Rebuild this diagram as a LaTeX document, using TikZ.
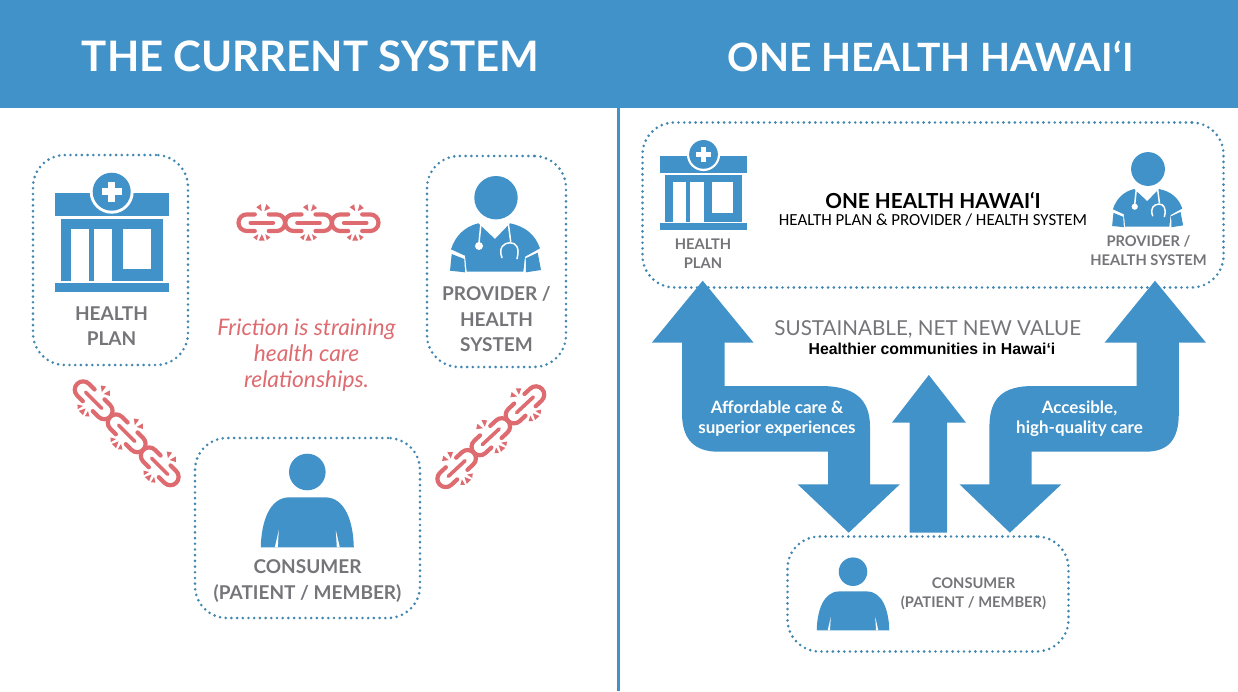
\documentclass[tikz,border=0pt]{standalone}
\usepackage{fontspec}
\setmainfont{Lato}
\newfontfamily\calfont{Carlito}
\newfontfamily\arialfont{Liberation Sans}
\definecolor{hawaiiblue}{RGB}{65,146,200}
\definecolor{dotblue}{RGB}{66,135,175}
\definecolor{labelgray}{RGB}{117,117,121}
\definecolor{chainred}{RGB}{221,107,112}
\tikzset{
    dotbox/.style={draw=dotblue, line width=2.9pt, line cap=round, dash pattern=on 0pt off 5.7pt, rounded corners=32pt, inner sep=0pt},
    biglabel/.style={text=labelgray, align=center, font=\fontsize{19}{25.5}\selectfont\bfseries},
    smalllabel/.style={text=labelgray, align=center, font=\fontsize{14.7}{19}\selectfont\bfseries},
    arrowtext/.style={text=white, align=center, font=\fontsize{17}{20}\selectfont\bfseries},
    blockarrow/.style={fill=hawaiiblue, draw=none},
    clinic/.pic={
        \fill[hawaiiblue] (-57,1.5) rectangle (57,24.5);
        \fill[hawaiiblue] (-51,27) rectangle (51,89);
        \fill[hawaiiblue] (-57,91) rectangle (57,100);
        \fill[white] (-41,37) rectangle (-23,89);
        \fill[white] (-18,37) rectangle (0,89);
        \fill[white] (11,37) rectangle (39,77);
        \fill[white] (0,0) circle (22);
        \fill[hawaiiblue] (0,0) circle (19);
        \fill[white] (-3.6,-10) rectangle (3.6,10);
        \fill[white] (-10,-3.6) rectangle (10,3.6);
    },
    patient/.pic={
        \fill[hawaiiblue] (0,0) circle (18.3);
        \fill[hawaiiblue] (-46.5,75.3) .. controls (-46,50) and (-38,25.5) .. (-18,25.3) -- (18,25.3) .. controls (38,25.5) and (46,50) .. (46.5,75.3) -- cycle;
        \fill[white] (-28.5,58) -- (-32.5,75.3) -- (-29.5,75.3) -- cycle;
        \fill[white] (28.5,58) -- (32.5,75.3) -- (29.5,75.3) -- cycle;
    },
    doctor/.pic={
        \fill[hawaiiblue] (0,0) circle (21.7);
        \fill[hawaiiblue] (-17.7,25.6) -- (-1,41.3) -- (14,25.6) .. controls (30,29) and (39,37) .. (44,50.6) -- (29,59) -- (27.3,74) -- (-29.3,74) -- (-31,58) -- (-45,51.6) .. controls (-41,39) and (-32,29) .. (-17.7,25.6) -- cycle;
        \fill[hawaiiblue] (-44.3,56.3) -- (-31.7,61.3) -- (-31,74.6) -- (-46,73) -- cycle;
        \fill[hawaiiblue] (41.7,55) -- (29.7,60.6) -- (30,74.6) -- (45,72.3) -- cycle;
        \draw[white, line width=1.5pt] (-15,25.6) -- (-17,45);
        \fill[white] (-17,48.3) circle (4);
        \draw[white, line width=1.5pt] (12.3,25.6) -- (14.7,44);
        \draw[white, line width=1.5pt, line cap=round] (6,60) .. controls (2,50) and (8,45) .. (14,45) .. controls (20,45) and (24,50) .. (21,61);
    },
    brokenchain/.pic={
        \foreach \x in {-46.7, 0, 46.7} {
            \begin{scope}[xshift=\x pt]
                \draw[chainred, line width=4.2pt, line cap=round] (-7,-8.3) -- (-15,-8.3) arc[start angle=270, end angle=90, radius=8.3] -- (-7,8.3);
                \draw[chainred, line width=4.2pt, line cap=round] (7,-8.3) -- (15,-8.3) arc[start angle=270, end angle=450, radius=8.3] -- (7,8.3);
                \draw[chainred, line width=3.6pt, line cap=round] (-11.5,0) -- (11.5,0);
                \fill[chainred] (-5.5,-15.5) -- (-1,-18.5) -- (0,-11.5) -- cycle;
                \fill[chainred] (2.5,-11.5) -- (4.5,-18.5) -- (8.5,-14.5) -- cycle;
                \fill[chainred] (0,11.5) -- (-3,18) -- (3,18) -- cycle;
                \fill[chainred] (-3.5,11.5) -- (-8.5,14.5) -- (-5,17.5) -- cycle;
                \fill[chainred] (3.5,11.5) -- (8.5,14.5) -- (5,17.5) -- cycle;
            \end{scope}
        }
    }
}
\begin{document}
\begin{tikzpicture}[x=1pt, y=-1pt]
    \path[use as bounding box] (0,0) rectangle (1238,691);
    \fill[hawaiiblue] (0,0) rectangle (1238,108);
    \fill[hawaiiblue] (617,108) rectangle (620,691);
    \node[text=white, font=\fontsize{42}{48}\selectfont\bfseries] (lefttitle) at (310.5,56.5) {THE CURRENT SYSTEM};
    \node[text=white, font=\fontsize{39}{48}\selectfont\bfseries] (righttitle) at (930.5,56.5) {ONE HEALTH HAWAI‘I};

    \node[dotbox, minimum width=155pt, minimum height=210pt] (planbox) at (110.5,260) {};
    \node[dotbox, minimum width=139pt, minimum height=211pt] (providerbox) at (496.5,261.5) {};
    \node[dotbox, minimum width=225pt, minimum height=180pt] (consumerbox) at (307.5,528) {};
    \pic at (111.7,191.7) {clinic};
    \pic at (496,197.7) {doctor};
    \pic at (307.3,472) {patient};
    \node[biglabel] (planlabel) at (111.5,326) {HEALTH\\PLAN};
    \node[biglabel] (providerlabel) at (496.5,319.5) {PROVIDER /\\HEALTH\\SYSTEM};
    \node[biglabel] (consumerlabel) at (307.5,581) {CONSUMER\\(PATIENT / MEMBER)};
    \node[text=chainred, align=center, font=\fontsize{22.8}{26}\selectfont\itshape] (friction) at (306.5,355) {Friction is straining\\health care\\relationships.};
    \pic at (308.5,222.7) {brokenchain};
    \pic[rotate=-45] at (126.7,433.3) {brokenchain};
    \pic[rotate=43] at (490.8,436.7) {brokenchain};

    \node[dotbox, minimum width=581pt, minimum height=165pt] (unionbox) at (933,205) {};
    \node[dotbox, minimum width=281pt, minimum height=115pt] (memberbox) at (928,594) {};
    \pic[scale=0.756] at (703.5,154.4) {clinic};
    \pic[scale=0.78] at (1148,169) {doctor};
    \pic[scale=0.78] at (853,571.7) {patient};
    \node[smalllabel] (plansmall) at (703,254) {HEALTH\\PLAN};
    \node[smalllabel] (providersmall) at (1148.5,250.5) {PROVIDER /\\HEALTH SYSTEM};
    \node[smalllabel] (consumersmall) at (973.5,594) {CONSUMER\\(PATIENT / MEMBER)};
    \node[text=black, font=\fontsize{20.7}{24}\selectfont\bfseries] (uniontitle) at (933,200.5) {ONE HEALTH HAWAI‘I};
    \node[text=black, font=\calfont\fontsize{16.9}{20}\selectfont] (unionsub) at (933,219.5) {HEALTH PLAN \& PROVIDER / HEALTH SYSTEM};
    \node[text=labelgray, font=\fontsize{20.6}{24}\selectfont] (valuetitle) at (927.7,329) {SUSTAINABLE, NET NEW VALUE};
    \node[text=black, font=\arialfont\fontsize{15.8}{18}\selectfont\bfseries] (valuesub) at (932,349) {Healthier communities in Hawai‘i};

    \path[blockarrow] (702.7,280.7) -- (753.6,342.7) -- (724.7,342.7) -- (724.7,386) -- (820.8,386) .. controls (853,386) and (870,398) .. (870,426.7) -- (870,484.3) -- (899.8,484.3) -- (848.7,532.7) -- (797.6,484.3) -- (828.2,484.3) -- (828.2,451.7) -- (718.3,451.7) .. controls (695,451.7) and (682,440) .. (682,413.3) -- (682,342.7) -- (651.8,342.7) -- cycle;
    \path[blockarrow] (1155,280.7) -- (1206,342.7) -- (1178.8,342.7) -- (1178.8,413.3) .. controls (1178.8,440) and (1168,451.7) .. (1145.3,451.7) -- (1031.5,451.7) -- (1031.5,484.3) -- (1061.4,484.3) -- (1009.9,532.7) -- (959.5,484.3) -- (989.4,484.3) -- (989.4,426.7) .. controls (989.4,398) and (1003,386) .. (1033,386) -- (1136.7,386) -- (1136.7,342.7) -- (1104.5,342.7) -- cycle;
    \path[blockarrow] (928.8,375) -- (966,422.7) -- (947,422.7) -- (947,532.7) -- (909.7,532.7) -- (909.7,422.7) -- (891.9,422.7) -- cycle;
    \node[arrowtext] (carelabel) at (777,419) {Affordable care \&\\superior experiences};
    \node[arrowtext] (accesslabel) at (1079.5,419) {Accesible,\\high-quality care};
\end{tikzpicture}
\end{document}
